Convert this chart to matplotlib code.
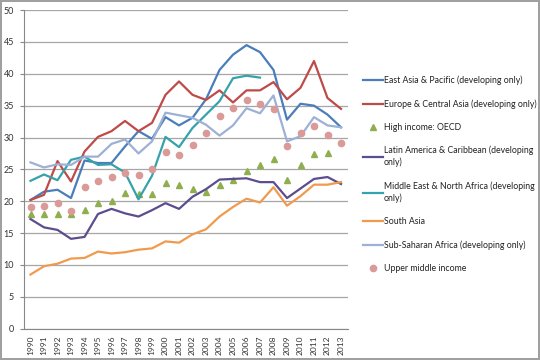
import numpy as np
import matplotlib
matplotlib.use("Agg")
import matplotlib.pyplot as plt

years = list(range(1990, 2014))

east_asia = [20.2, 21.5, 21.8, 20.5, 26.4, 26.0, 26.0, 28.6, 31.0, 29.8, 33.2, 31.9,
             33.1, 36.0, 40.6, 43.0, 44.5, 43.4, 40.6, 32.8, 35.3, 35.0, 33.6, 31.6]
europe = [20.2, 21.0, 26.3, 23.1, 27.8, 30.1, 31.0, 32.6, 31.0, 32.3, 36.7, 38.8,
          36.7, 35.9, 37.4, 35.5, 37.4, 37.4, 38.7, 36.0, 37.8, 42.0, 36.2, 34.5]
high_income = [18.0, 18.0, 18.0, 18.0, 18.7, 19.8, 20.1, 21.3, 21.2, 21.2, 22.9, 22.6,
               21.9, 21.5, 22.6, 23.4, 24.8, 25.7, 26.6, 23.3, 25.7, 27.4, 27.5, np.nan]
latin = [17.2, 15.9, 15.5, 14.1, 14.4, 18.0, 18.8, 18.1, 17.6, 18.6, 19.7, 18.8,
         20.7, 21.9, 23.4, 23.5, 23.6, 23.0, 23.0, 20.5, 22.0, 23.5, 23.8, 22.7]
mena = [23.2, 24.2, 23.3, 26.5, 27.0, 25.7, 25.8, 24.5, 20.3, 24.0, 30.1, 28.5,
        31.5, 33.6, 35.7, 39.3, 39.7, 39.4, np.nan, np.nan, np.nan, np.nan, np.nan, np.nan]
south_asia = [8.5, 9.8, 10.2, 11.0, 11.1, 12.1, 11.8, 12.0, 12.4, 12.6, 13.7, 13.5,
              14.8, 15.6, 17.6, 19.1, 20.4, 19.8, 22.2, 19.3, 20.8, 22.6, 22.6, 23.0]
ssa = [26.1, 25.3, 25.8, 25.7, 27.0, 27.0, 29.0, 29.7, 27.5, 29.4, 33.9, 33.5,
       33.1, 32.0, 30.3, 31.9, 34.6, 33.8, 36.6, 29.4, 30.2, 33.2, 31.9, 31.6]
upper_middle = [19.1, 19.3, 19.8, 18.4, 22.2, 23.1, 23.8, 24.5, 24.1, 25.0, 27.8, 27.2,
                28.8, 30.7, 33.3, 34.6, 35.9, 35.3, 34.5, 28.7, 30.7, 31.8, 30.4, 29.2]

plt.rcParams['font.family'] = ['Lato', 'DejaVu Sans']

fig = plt.figure(figsize=(5.4, 3.6), dpi=100)
fig.patch.set_edgecolor('#a0a0a0')
fig.patch.set_linewidth(1.5)
ax = fig.add_axes([0.044, 0.087, 0.6, 0.885])

x = np.arange(len(years))
lw = 1.6
ax.plot(x, east_asia, color='#4a7ebb', lw=lw, label='East Asia & Pacific (developing only)')
ax.plot(x, europe, color='#be4b48', lw=lw, label='Europe & Central Asia (developing only)')
ax.plot(x, high_income, ls='none', marker='^', ms=5, color='#8fae4e', label='High income: OECD')
ax.plot(x, latin, color='#5c4d8e', lw=lw, label='Latin America & Caribbean (developing\nonly)')
ax.plot(x, mena, color='#36a2ab', lw=lw, label='Middle East & North Africa (developing\nonly)')
ax.plot(x, south_asia, color='#f09a4e', lw=lw, label='South Asia')
ax.plot(x, ssa, color='#9db0d6', lw=lw, label='Sub-Saharan Africa (developing only)')
ax.plot(x, upper_middle, ls='none', marker='o', ms=4.5, color='#d99a98', label='Upper middle income')

ax.set_xlim(-0.5, len(years) - 0.5)
ax.set_ylim(0, 50)
ax.set_yticks(range(0, 51, 5))
ax.set_xticks(x)
ax.set_xticklabels([str(y) for y in years], rotation=90, fontsize=6)
ax.tick_params(axis='y', labelsize=6.5, length=3, color='#888888', labelcolor='#333333', pad=4)
ax.tick_params(axis='x', length=0, labelcolor='#333333', pad=5)
ax.grid(axis='y', color='#a6a6a6', lw=0.9)
ax.set_axisbelow(True)
for s in ['top', 'right']:
    ax.spines[s].set_visible(False)
for s in ['left', 'bottom']:
    ax.spines[s].set_color('#888888')

leg = fig.legend(loc='upper left', bbox_to_anchor=(0.665, 0.80), frameon=False,
                 fontsize=6.3, handlelength=2.3, handletextpad=0.1, labelspacing=1.6,
                 borderaxespad=0)
for t in leg.get_texts():
    t.set_linespacing(1.35)
    t.set_color('#222222')

fig.savefig('out.png', dpi=100)
